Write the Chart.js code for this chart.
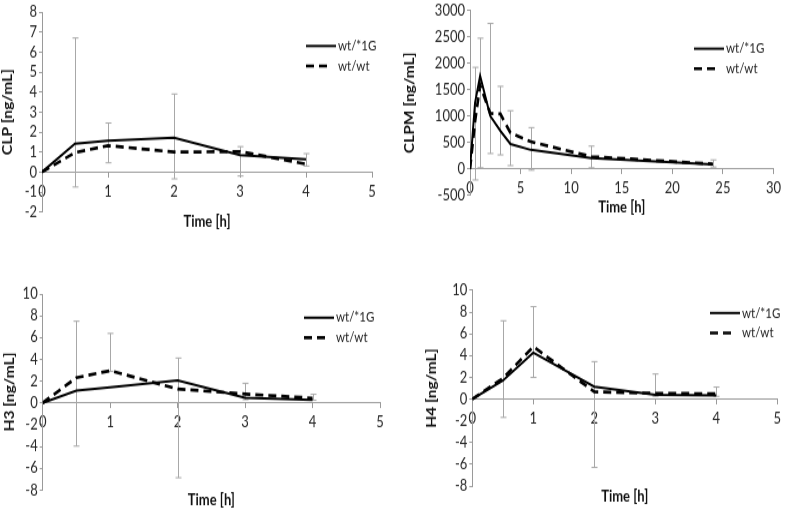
<!doctype html>
<html>
<head>
<meta charset="utf-8">
<title>CLP, CLPM, H3, H4 by genotype</title>
<script src="https://cdn.jsdelivr.net/npm/chart.js@4.4.1/dist/chart.umd.min.js"></script>
<style>
  html, body { margin: 0; padding: 0; background: #fff; }
  body { width: 787px; height: 509px; position: relative; overflow: hidden; }
  .panel { position: absolute; transform-origin: 0 0; transform: scaleY(1.2); }
  .panel canvas { display: block; }
</style>
</head>
<body>
<div class="panel" id="p1"><canvas></canvas></div>
<div class="panel" id="p2"><canvas></canvas></div>
<div class="panel" id="p3"><canvas></canvas></div>
<div class="panel" id="p4"><canvas></canvas></div>

<script>
// the source figure is stretched vertically, so each panel is drawn flat and scaled
const S = 1.2;

// CLP
const clpTime = [0, 0.5, 1, 2, 3, 4];
const clpMut = [0, 1.42, 1.56, 1.72, 0.84, 0.63];
const clpWt = [0, 0.97, 1.32, 1.0, 1.02, 0.4];
const clpErrHigh = [0, 6.7, 2.45, 3.9, 1.27, 0.92];
const clpErrLow = [0, -0.75, 0.46, -0.34, -0.2, 0.3];

// CLPM
const clpmTime = [0, 0.5, 1, 2, 3, 4, 6, 12, 24];
const clpmMut = [0, 1250, 1760, 1000, 720, 470, 360, 205, 85];
const clpmWt = [0, 900, 1580, 1050, 1040, 680, 515, 232, 92];
const clpmErrHigh = [0, 1920, 2470, 2750, 1560, 1100, 780, 430, 170];
const clpmErrLow = [0, -210, 20, 290, 265, 62, -25, 20, 35];

// H3
const h3Time = [0, 0.5, 1, 2, 3, 4];
const h3Mut = [0, 1.12, 1.42, 2.07, 0.46, 0.27];
const h3Wt = [0, 2.32, 2.96, 1.28, 0.82, 0.44];
const h3ErrHigh = [0, 7.5, 6.38, 4.12, 1.8, 0.79];
const h3ErrLow = [0, -3.97, 2.9, -6.87, 0.3, 0.25];

// H4
const h4Time = [0, 0.5, 1, 2, 3, 4];
const h4Mut = [0, 1.69, 4.26, 1.13, 0.4, 0.34];
const h4Wt = [0, 1.9, 4.82, 0.67, 0.52, 0.49];
const h4ErrHigh = [0, 7.2, 8.5, 3.44, 2.3, 1.1];
const h4ErrLow = [0, -1.69, 1.99, -6.29, 0.25, 0.25];

const seriesNames = ['wt/*1G', 'wt/wt'];
const xTitle = 'Time [h]';

Chart.defaults.font.family = 'Lato, "Open Sans", sans-serif';
Chart.defaults.color = '#262626';

const axisColor = '#9a9a9a';
const X_FONT = 13, Y_FONT = 13, TICK_FONT = 13;

function buildPanel(p) {
  const ch = Math.round(p.box.h / S);
  const xLH = X_FONT * 1.2, yLH = Y_FONT * 1.2;
  const cb = (p.area.b - p.box.top) / S;
  const xTitlePad = (p.xTitleY - p.box.top) / S - cb - xLH / 2;
  const padBottom = ch - cb - xLH - xTitlePad;
  const yTitlePad = p.yTitleX - p.box.left - yLH / 2;

  const wrap = document.getElementById(p.id);
  wrap.style.left = p.box.left + 'px';
  wrap.style.top = p.box.top + 'px';
  const cv = wrap.querySelector('canvas');
  cv.width = p.box.w;
  cv.height = ch;

  const errorBars = {
    id: 'errorBars',
    beforeDatasetsDraw(chart) {
      const { ctx, scales: { x, y } } = chart;
      ctx.save();
      ctx.strokeStyle = '#a8a8a8';
      ctx.lineWidth = 1;
      p.time.forEach((t, i) => {
        if (p.high[i] === p.low[i]) return;
        const px = Math.round(x.getPixelForValue(t)) + 0.5;
        const top = y.getPixelForValue(p.high[i]);
        const bot = y.getPixelForValue(p.low[i]);
        ctx.beginPath();
        ctx.moveTo(px, top); ctx.lineTo(px, bot);
        ctx.moveTo(px - 3, top); ctx.lineTo(px + 3, top);
        ctx.moveTo(px - 3, bot); ctx.lineTo(px + 3, bot);
        ctx.stroke();
      });
      ctx.restore();
    }
  };

  const lineKey = {
    id: 'lineKey',
    afterDatasetsDraw(chart) {
      const { ctx } = chart;
      const lx = p.legend.x - p.box.left;
      const ly = (p.legend.y - p.box.top) / S;
      chart.data.datasets.forEach((ds, i) => {
        const y = ly + i * 20 / S;
        ctx.save();
        ctx.strokeStyle = ds.borderColor;
        ctx.lineWidth = ds.borderWidth;
        ctx.setLineDash(ds.borderDash || []);
        ctx.beginPath();
        ctx.moveTo(lx, y);
        ctx.lineTo(lx + (ds.borderDash ? 21 : 30), y);
        ctx.stroke();
        ctx.setLineDash([]);
        ctx.fillStyle = '#222';
        ctx.font = '11.5px Lato, "Open Sans", sans-serif';
        ctx.textBaseline = 'middle';
        ctx.fillText(ds.label, lx + 32, y);
        ctx.restore();
      });
    }
  };

  const plain = (v) => String(v);

  return new Chart(cv, {
    type: 'line',
    data: {
      datasets: [
        {
          label: seriesNames[0],
          data: p.time.map((t, i) => ({ x: t, y: p.mut[i] })),
          borderColor: '#000',
          borderWidth: 2,
          pointRadius: 0,
          tension: 0
        },
        {
          label: seriesNames[1],
          data: p.time.map((t, i) => ({ x: t, y: p.wt[i] })),
          borderColor: '#000',
          borderWidth: 2.7,
          borderDash: [8, 5],
          pointRadius: 0,
          tension: 0
        }
      ]
    },
    options: {
      responsive: false,
      animation: false,
      devicePixelRatio: 1,
      layout: {
        padding: {
          left: 0,
          right: p.box.left + p.box.w - p.area.r,
          top: (p.area.t - p.box.top) / S,
          bottom: padBottom
        }
      },
      scales: {
        x: {
          type: 'linear',
          position: { y: 0 },
          min: p.xr[0], max: p.xr[1],
          ticks: { stepSize: p.xr[2], autoSkip: false, padding: 6, callback: plain, font: { size: TICK_FONT, lineHeight: 1 } },
          grid: { drawOnChartArea: false, tickLength: 4, color: axisColor },
          border: { color: axisColor }
        },
        y: {
          type: 'linear',
          position: 'left',
          min: p.yr[0], max: p.yr[1],
          afterFit(s) { s.width = p.area.l - p.box.left; },
          ticks: { stepSize: p.yr[2], autoSkip: false, padding: 2, callback: plain, font: { size: TICK_FONT, lineHeight: 1 } },
          grid: { drawOnChartArea: false, tickLength: 3, color: axisColor },
          border: { color: axisColor },
          title: {
            display: true,
            text: p.yTitle,
            color: '#111',
            font: { size: Y_FONT, weight: 'bold' },
            padding: { top: yTitlePad, bottom: 0 }
          }
        }
      },
      plugins: {
        legend: { display: false },
        tooltip: { enabled: false },
        title: {
          display: true,
          position: 'bottom',
          fullSize: false,
          text: xTitle,
          color: '#111',
          font: { size: X_FONT, weight: 'bold' },
          padding: { top: xTitlePad, bottom: 0 }
        }
      }
    },
    plugins: [errorBars, lineKey]
  });
}

buildPanel({
  id: 'p1', yTitle: 'CLP [ng/mL]',
  time: clpTime, mut: clpMut, wt: clpWt, high: clpErrHigh, low: clpErrLow,
  xr: [0, 5, 1], yr: [-2, 8, 1],
  box: { left: 0, top: 0, w: 400, h: 240 },
  area: { l: 42, r: 372, t: 12, b: 212 },
  yTitleX: 8.3, xTitleY: 222, legend: { x: 306, y: 46 }
});

buildPanel({
  id: 'p2', yTitle: 'CLPM [ng/mL]',
  time: clpmTime, mut: clpmMut, wt: clpmWt, high: clpmErrHigh, low: clpmErrLow,
  xr: [0, 30, 5], yr: [-500, 3000, 500],
  box: { left: 400, top: 0, w: 387, h: 240 },
  area: { l: 470, r: 778, t: 6.7, b: 195.3 },
  yTitleX: 410, xTitleY: 207, legend: { x: 694, y: 48.7 }
});

buildPanel({
  id: 'p3', yTitle: 'H3 [ng/mL]',
  time: h3Time, mut: h3Mut, wt: h3Wt, high: h3ErrHigh, low: h3ErrLow,
  xr: [0, 5, 1], yr: [-8, 10, 2],
  box: { left: 0, top: 240, w: 400, h: 268.8 },
  area: { l: 42.7, r: 380, t: 294, b: 490 },
  yTitleX: 10, xTitleY: 500.7, legend: { x: 304, y: 317.7 }
});

buildPanel({
  id: 'p4', yTitle: 'H4 [ng/mL]',
  time: h4Time, mut: h4Mut, wt: h4Wt, high: h4ErrHigh, low: h4ErrLow,
  xr: [0, 5, 1], yr: [-8, 10, 2],
  box: { left: 400, top: 240, w: 387, h: 268.8 },
  area: { l: 472.3, r: 781.7, t: 290.3, b: 486 },
  yTitleX: 431.7, xTitleY: 496.7, legend: { x: 710, y: 313 }
});
</script>
</body>
</html>
